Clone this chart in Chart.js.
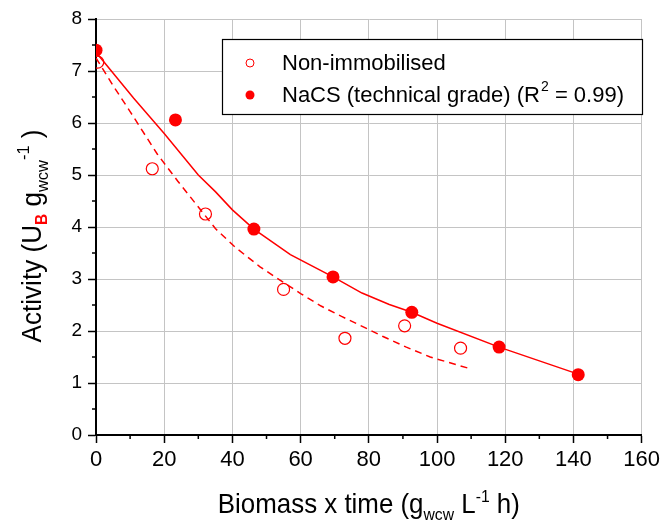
<!DOCTYPE html>
<html>
<head>
<meta charset="utf-8">
<script src="https://cdn.jsdelivr.net/npm/chart.js@4.4.1/dist/chart.umd.min.js"></script>
<style>
  html, body { margin: 0; padding: 0; background: #fff; }
  #wrap { width: 664px; height: 521px; }
</style>
</head>
<body>
<div id="wrap"><canvas id="myChart"></canvas></div>
<script>
const nonX = [0.5, 16.5, 32.1, 55.0, 73.0, 90.5, 106.9];
const nonY = [7.17, 5.12, 4.25, 2.80, 1.86, 2.10, 1.67];
const nacsX = [0, 23.3, 46.3, 69.5, 92.6, 118.2, 141.4];
const nacsY = [7.40, 6.06, 3.96, 3.04, 2.36, 1.69, 1.16];

// fitted curves
const fitNacsX = [0, 11, 20, 30, 35, 40, 46.3, 57, 69.5, 78, 86, 92.6, 100, 118.2, 141.4];
const fitNacsY = [7.36, 6.48, 5.8, 5.0, 4.68, 4.33, 3.96, 3.47, 3.04, 2.73, 2.51, 2.36, 2.15, 1.69, 1.17];
const fitNonX = [0, 5, 10, 18, 24, 28, 32, 35, 41, 48, 53, 60, 66, 72, 79, 84, 91, 98, 108.9];
const fitNonY = [7.25, 6.72, 6.22, 5.4, 4.88, 4.55, 4.22, 3.97, 3.6, 3.24, 3.02, 2.72, 2.48, 2.28, 2.06, 1.9, 1.69, 1.5, 1.29];

const xTicks = [0, 20, 40, 60, 80, 100, 120, 140, 160];
const yTicks = [0, 1, 2, 3, 4, 5, 6, 7, 8];

const legendLabels = ["Non-immobilised", "NaCS (technical grade) (R", "2", " = 0.99)"];

const RED = "#ff0000";
const FONT = "'Liberation Sans', Arial, sans-serif";

function pts(xs, ys) {
  return xs.map((x, i) => ({ x: x, y: ys[i] }));
}

// draw a row of text pieces (normal / sub / sup), centred on x
function drawRuns(ctx, runs, x, y, fitWidth) {
  let total = 0;
  runs.forEach(r => {
    ctx.font = (r.bold ? "bold " : "") + r.size + "px " + FONT;
    r.w = ctx.measureText(r.t).width;
    total += r.w;
  });
  let sx = fitWidth ? fitWidth / total : 1;
  ctx.save();
  ctx.translate(x, y);
  ctx.scale(sx, 1);
  let cx = -total / 2;
  ctx.textBaseline = "alphabetic";
  ctx.textAlign = "left";
  runs.forEach(r => {
    ctx.font = (r.bold ? "bold " : "") + r.size + "px " + FONT;
    ctx.fillStyle = r.color || "#000";
    ctx.fillText(r.t, cx, r.dy || 0);
    cx += r.w;
  });
  ctx.restore();
}

const titlesPlugin = {
  id: "titles",
  afterDraw(chart) {
    const ctx = chart.ctx;
    const a = chart.chartArea;
    // x title
    drawRuns(ctx, [
      { t: "Biomass x time (g", size: 28 },
      { t: "wcw", size: 17, dy: 7 },
      { t: " L", size: 28 },
      { t: "-1", size: 17, dy: -11 },
      { t: " h)", size: 28 }
    ], (a.left + a.right) / 2, 513, 302);
    // y title
    ctx.save();
    ctx.translate(41, 236);
    ctx.rotate(-Math.PI / 2);
    drawRuns(ctx, [
      { t: "Activity (U", size: 27 },
      { t: "B", size: 16, dy: 6, bold: true, color: RED },
      { t: " g", size: 27 },
      { t: "wcw", size: 17, dy: 7 },
      { t: "-1", size: 17, dy: -12 },
      { t: " )", size: 27 }
    ], 0, 0, 213);
    ctx.restore();
  }
};

const minorTicks = {
  id: "minorTicks",
  afterDraw(chart) {
    const ctx = chart.ctx;
    const xs = chart.scales.x, ys = chart.scales.y;
    const a = chart.chartArea;
    ctx.save();
    ctx.strokeStyle = "#000";
    ctx.lineWidth = 1.5;
    ctx.beginPath();
    for (let i = 0; i < xTicks.length - 1; i++) {
      const px = xs.getPixelForValue((xTicks[i] + xTicks[i + 1]) / 2);
      ctx.moveTo(px, a.bottom);
      ctx.lineTo(px, a.bottom + 4);
    }
    for (let i = 0; i < yTicks.length - 1; i++) {
      const py = ys.getPixelForValue((yTicks[i] + yTicks[i + 1]) / 2);
      ctx.moveTo(a.left, py);
      ctx.lineTo(a.left - 4, py);
    }
    ctx.stroke();
    ctx.restore();
  }
};

const legendBox = {
  id: "legendBox",
  afterDraw(chart) {
    const ctx = chart.ctx;
    ctx.save();
    ctx.fillStyle = "#fff";
    ctx.fillRect(222, 39, 420, 75);
    ctx.strokeStyle = "#000";
    ctx.lineWidth = 1.2;
    ctx.strokeRect(222.5, 39.5, 420, 75);
    // markers
    ctx.lineWidth = 1;
    ctx.strokeStyle = RED;
    ctx.beginPath();
    ctx.arc(250, 63, 4, 0, Math.PI * 2);
    ctx.stroke();
    ctx.fillStyle = RED;
    ctx.beginPath();
    ctx.arc(250, 95, 4.5, 0, Math.PI * 2);
    ctx.fill();
    // texts
    ctx.fillStyle = "#000";
    ctx.textAlign = "left";
    ctx.textBaseline = "alphabetic";
    ctx.font = "22px " + FONT;
    ctx.fillText(legendLabels[0], 282, 70);
    ctx.fillText(legendLabels[1], 282, 102);
    let w = ctx.measureText(legendLabels[1]).width;
    ctx.font = "14px " + FONT;
    ctx.fillText(legendLabels[2], 282 + w + 1, 91);
    let w2 = ctx.measureText(legendLabels[2]).width;
    ctx.font = "22px " + FONT;
    ctx.fillText(legendLabels[3], 282 + w + w2 + 1, 102);
    ctx.restore();
  }
};

const ctx = document.getElementById("myChart").getContext("2d");

const myChart = new Chart(ctx, {
  type: "scatter",
  data: {
    datasets: [
      {
        label: "NaCS (technical grade)",
        data: pts(nacsX, nacsY),
        pointRadius: 6.5,
        pointBackgroundColor: RED,
        pointBorderColor: RED,
        pointBorderWidth: 0,
        showLine: false,
        clip: 0
      },
      {
        label: "Non-immobilised",
        data: pts(nonX, nonY),
        pointRadius: 6,
        pointBackgroundColor: "rgba(0,0,0,0)",
        pointBorderColor: RED,
        pointBorderWidth: 1.2,
        showLine: false,
        clip: 0
      },
      {
        label: "fit NaCS",
        data: pts(fitNacsX, fitNacsY),
        showLine: true,
        borderColor: RED,
        borderWidth: 1.5,
        pointRadius: 0,
        fill: false,
        clip: 0
      },
      {
        label: "fit non-immobilised",
        data: pts(fitNonX, fitNonY),
        showLine: true,
        borderColor: RED,
        borderWidth: 1.5,
        borderDash: [7, 5],
        pointRadius: 0,
        fill: false,
        clip: 0
      }
    ]
  },
  options: {
    responsive: true,
    maintainAspectRatio: false,
    animation: false,
    devicePixelRatio: 1,
    layout: { padding: { top: 19, right: 19, left: 0, bottom: 0 } },
    plugins: {
      legend: { display: false },
      tooltip: { enabled: false },
      title: { display: false }
    },
    scales: {
      x: {
        type: "linear",
        min: 0,
        max: 160,
        afterBuildTicks: s => { s.ticks = xTicks.map(v => ({ value: v })); },
        afterFit: s => { s.height = 86; },
        grid: { color: "#c4c4c4", lineWidth: 1, tickColor: "#000", tickLength: 8, tickWidth: 1.5 },
        border: { color: "#000", width: 2 },
        ticks: { color: "#000", font: { family: FONT, size: 22 }, padding: 4, maxRotation: 0 }
      },
      y: {
        type: "linear",
        min: 0,
        max: 8,
        afterBuildTicks: s => { s.ticks = yTicks.map(v => ({ value: v })); },
        afterFit: s => { s.width = 96; },
        grid: { color: "#c4c4c4", lineWidth: 1, tickColor: "#000", tickLength: 8, tickWidth: 1.5 },
        border: { color: "#000", width: 2 },
        ticks: { color: "#000", font: { family: FONT, size: 19 }, padding: 6 }
      }
    }
  },
  plugins: [minorTicks, titlesPlugin, legendBox]
});
</script>
</body>
</html>
